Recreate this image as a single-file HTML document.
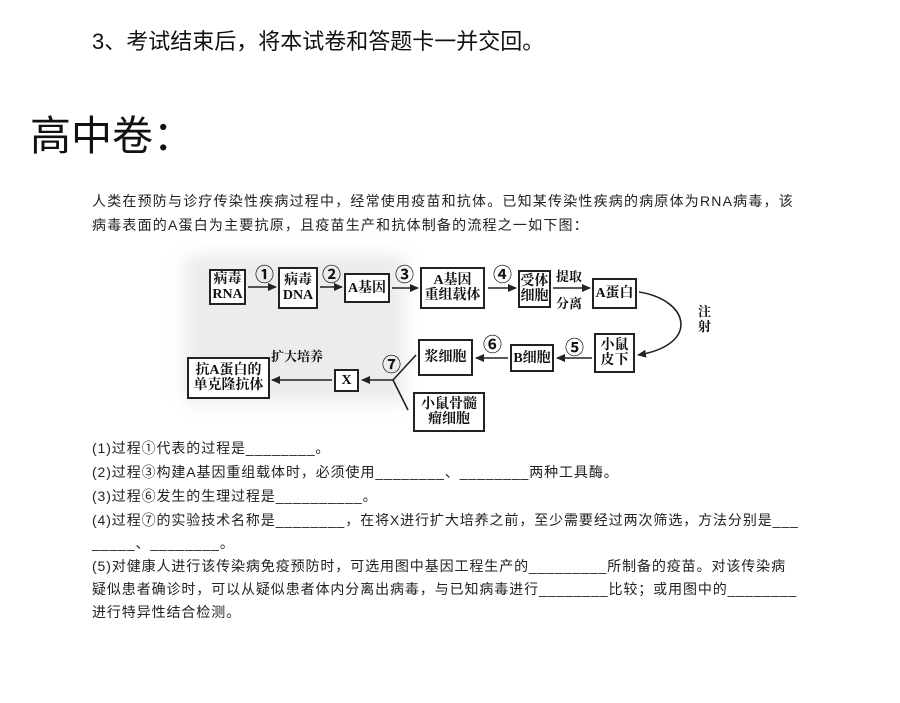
<!DOCTYPE html>
<html><head><meta charset="utf-8"><style>
body{margin:0;width:900px;height:703px;background:#fff;position:relative;overflow:hidden;font-family:"Liberation Sans","Noto Sans CJK SC",sans-serif;color:#111}
.t{position:absolute;white-space:nowrap}
.b{position:absolute;border:2px solid #222;box-sizing:border-box;display:flex;align-items:center;justify-content:center;text-align:center;font-family:"Liberation Serif","Noto Serif CJK SC",serif;font-weight:bold;font-size:14px;line-height:15px;background:#fff}
.q{position:absolute;left:92px;font-size:14px;letter-spacing:0.9px;color:#222;white-space:nowrap}
</style></head><body>
<div class="t" style="left:92px;top:24px;font-size:22px">3、考试结束后，将本试卷和答题卡一并交回。</div>
<div class="t" style="left:-6px;top:36px;font-size:22px">)</div>
<div class="t" style="left:30px;top:102px;font-size:41px">高中卷：</div>
<div class="t" style="left:92px;top:191px;font-size:14px;letter-spacing:1.2px;color:#222">人类在预防与诊疗传染性疾病过程中，经常使用疫苗和抗体。已知某传染性疾病的病原体为RNA病毒，该</div>
<div class="t" style="left:92px;top:215px;font-size:14px;letter-spacing:1.2px;color:#222">病毒表面的A蛋白为主要抗原，且疫苗生产和抗体制备的流程之一如下图：</div>
<div style="position:absolute;left:185px;top:255px;width:220px;height:148px;background:#ececec;filter:blur(8px)"></div>
<svg style="position:absolute;left:0;top:0" width="900" height="703">
<defs><marker id="a" markerUnits="userSpaceOnUse" markerWidth="9" markerHeight="8" refX="8" refY="4" orient="auto"><path d="M0,0L9,4L0,8z" fill="#222"/></marker></defs>
<g stroke="#222" stroke-width="1.6" fill="none">
<line x1="248" y1="287" x2="276" y2="287" marker-end="url(#a)"/>
<line x1="320" y1="287" x2="342" y2="287" marker-end="url(#a)"/>
<line x1="392" y1="288" x2="418" y2="288" marker-end="url(#a)"/>
<line x1="488" y1="288" x2="516" y2="288" marker-end="url(#a)"/>
<line x1="553" y1="288" x2="590" y2="288" marker-end="url(#a)"/>
<path d="M639,292 C690,300 700,345 638,355" marker-end="url(#a)"/>
<line x1="592" y1="358" x2="557" y2="358" marker-end="url(#a)"/>
<line x1="508" y1="358" x2="476" y2="358" marker-end="url(#a)"/>
<line x1="416" y1="355" x2="393" y2="380"/>
<line x1="393" y1="380" x2="408" y2="410"/>
<line x1="393" y1="380" x2="362" y2="380" marker-end="url(#a)"/>
<line x1="332" y1="380" x2="272" y2="380" marker-end="url(#a)"/>
</g>
</svg>
<div class="b" style="left:209px;top:269px;width:37px;height:36px">病毒<br>RNA</div>
<div class="b" style="left:278px;top:267px;width:40px;height:42px">病毒<br>DNA</div>
<div class="b" style="left:344px;top:273px;width:46px;height:30px">A基因</div>
<div class="b" style="left:420px;top:267px;width:65px;height:42px">A基因<br>重组载体</div>
<div class="b" style="left:518px;top:270px;width:33px;height:38px">受体<br>细胞</div>
<div class="b" style="left:592px;top:278px;width:45px;height:31px">A蛋白</div>
<div class="b" style="left:594px;top:333px;width:41px;height:40px">小鼠<br>皮下</div>
<div class="b" style="left:510px;top:344px;width:44px;height:28px">B细胞</div>
<div class="b" style="left:418px;top:339px;width:55px;height:37px">浆细胞</div>
<div class="b" style="left:334px;top:369px;width:25px;height:23px">X</div>
<div class="b" style="left:187px;top:357px;width:83px;height:42px">抗A蛋白的<br>单克隆抗体</div>
<div class="b" style="left:413px;top:392px;width:72px;height:40px">小鼠骨髓<br>瘤细胞</div>
<div class="t" style="left:255px;top:260px;font-size:19px;font-weight:bold">①</div>
<div class="t" style="left:322px;top:260px;font-size:19px;font-weight:bold">②</div>
<div class="t" style="left:395px;top:260px;font-size:19px;font-weight:bold">③</div>
<div class="t" style="left:493px;top:260px;font-size:19px;font-weight:bold">④</div>
<div class="t" style="left:556px;top:266px;font-size:13px;font-weight:bold;font-family:'Noto Serif CJK SC',serif">提取</div>
<div class="t" style="left:556px;top:293px;font-size:13px;font-weight:bold;font-family:'Noto Serif CJK SC',serif">分离</div>
<div class="t" style="left:698px;top:303px;font-size:13px;font-weight:bold;line-height:15px;font-family:'Noto Serif CJK SC',serif">注<br>射</div>
<div class="t" style="left:565px;top:333px;font-size:19px;font-weight:bold">⑤</div>
<div class="t" style="left:483px;top:330px;font-size:19px;font-weight:bold">⑥</div>
<div class="t" style="left:382px;top:350px;font-size:19px;font-weight:bold">⑦</div>
<div class="t" style="left:271px;top:346px;font-size:13px;font-weight:bold;font-family:'Noto Serif CJK SC',serif">扩大培养</div>
<div class="q" style="top:438px">(1)过程①代表的过程是________。</div>
<div class="q" style="top:462px">(2)过程③构建A基因重组载体时，必须使用________、________两种工具酶。</div>
<div class="q" style="top:486px">(3)过程⑥发生的生理过程是__________。</div>
<div class="q" style="top:510px">(4)过程⑦的实验技术名称是________，在将X进行扩大培养之前，至少需要经过两次筛选，方法分别是___</div>
<div class="q" style="top:533px">_____、________。</div>
<div class="q" style="top:556px">(5)对健康人进行该传染病免疫预防时，可选用图中基因工程生产的_________所制备的疫苗。对该传染病</div>
<div class="q" style="top:579px">疑似患者确诊时，可以从疑似患者体内分离出病毒，与已知病毒进行________比较；或用图中的________</div>
<div class="q" style="top:602px">进行特异性结合检测。</div>
</body></html>
